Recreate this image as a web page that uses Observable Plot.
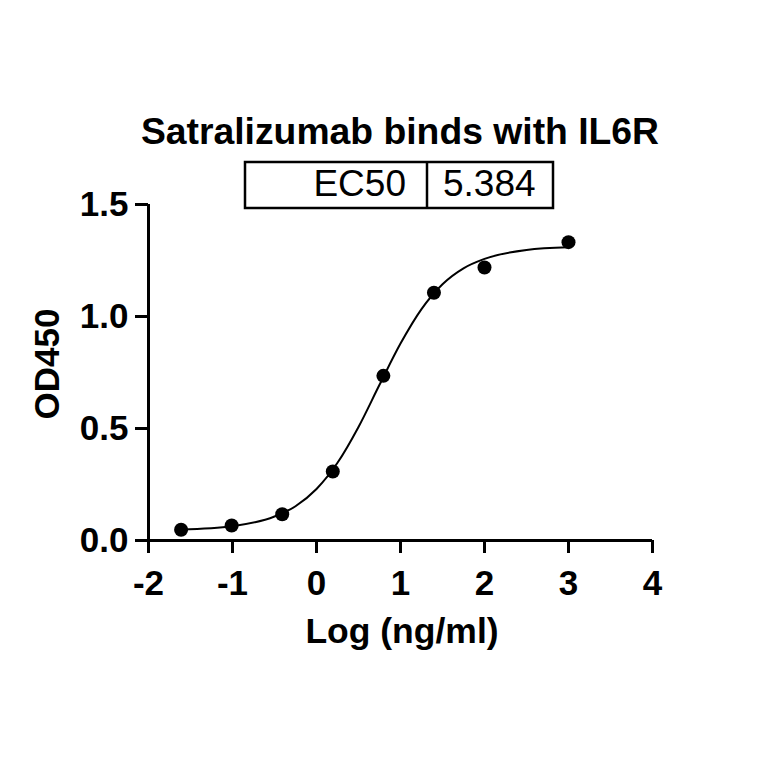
<!DOCTYPE html>
<html>
<head>
<meta charset="utf-8">
<script src="https://cdn.jsdelivr.net/npm/d3@7"></script>
<script src="https://cdn.jsdelivr.net/npm/@observablehq/plot@0.6"></script>
<style>
  html, body { margin: 0; padding: 0; background: #fff; }
  #chart svg { display: block; }
</style>
</head>
<body>
<div id="chart"></div>
<script>
// ---- data ----
const title = "Satralizumab binds with IL6R";
const ec50Label = "EC50";
const ec50Value = "5.384";
const xLabel = "Log (ng/ml)";
const yLabel = "OD450";

// measured points (log10 concentration, OD450)
const logConc = [-1.612, -1.010, -0.408, 0.194, 0.796, 1.398, 2.0, 3.0];
const od450   = [0.048, 0.067, 0.117, 0.308, 0.735, 1.106, 1.219, 1.332];

// fitted sigmoid curve
const curveX = [-1.612, -1.0, -0.5, -0.25, 0, 0.25, 0.5, 0.75, 1.0, 1.25, 1.5, 1.75, 2.0, 2.5, 3.0];
const curveY = [0.049, 0.064, 0.107, 0.153, 0.230, 0.347, 0.507, 0.695, 0.879, 1.033, 1.144, 1.215, 1.257, 1.297, 1.309];

// axis ticks
const xTicks = [-2, -1, 0, 1, 2, 3, 4];
const xTickLabels = ["-2", "-1", "0", "1", "2", "3", "4"];
const yTicks = [0, 0.5, 1.0, 1.5];
const yTickLabels = ["0.0", "0.5", "1.0", "1.5"];

// ---- build tables ----
const points = logConc.map((x, i) => ({x, y: od450[i]}));
const curve = curveX.map((x, i) => ({x, y: curveY[i]}));

const font = "'Liberation Sans', Arial, Helvetica, sans-serif";
const W = 764, H = 764;

const chart = Plot.plot({
  width: W,
  height: H,
  marginLeft: 148,
  marginRight: 112,
  marginTop: 204,
  marginBottom: 224,
  style: {fontFamily: font, background: "#fff", color: "#000", overflow: "visible"},
  x: {domain: [-2, 4]},
  y: {domain: [0, 1.5]},
  marks: [
    Plot.axisX({
      ticks: xTicks, tickFormat: (d) => xTickLabels[xTicks.indexOf(d)],
      tickSize: 13, tickPadding: 17, strokeWidth: 3,
      fontSize: 35, fontWeight: "bold", label: null, stroke: "#000", fill: "#000"
    }),
    Plot.axisY({
      ticks: yTicks, tickFormat: (d) => yTickLabels[yTicks.indexOf(d)],
      tickSize: 13, tickPadding: 7, strokeWidth: 3,
      fontSize: 35, fontWeight: "bold", label: null, stroke: "#000", fill: "#000"
    }),
    Plot.ruleY([0], {stroke: "#000", strokeWidth: 3}),
    Plot.ruleX([-2], {stroke: "#000", strokeWidth: 3}),
    Plot.line(curve, {x: "x", y: "y", curve: "monotone-x", stroke: "#000", strokeWidth: 2}),
    Plot.dot(points, {x: "x", y: "y", r: 7, fill: "#000", stroke: "none"})
  ]
});

const svg = d3.select(chart);

// title
svg.append("text")
  .attr("x", 400).attr("y", 144)
  .attr("text-anchor", "middle")
  .attr("font-family", font).attr("font-weight", "bold").attr("font-size", 37.3)
  .attr("fill", "#000")
  .text(title);

// EC50 table box
const box = svg.append("g").attr("fill", "none").attr("stroke", "#000").attr("stroke-width", 2.5);
box.append("rect").attr("x", 245).attr("y", 162).attr("width", 308).attr("height", 46);
box.append("line").attr("x1", 427).attr("x2", 427).attr("y1", 162).attr("y2", 208);

svg.append("text")
  .attr("x", 406).attr("y", 196)
  .attr("text-anchor", "end")
  .attr("font-family", font).attr("font-size", 37).attr("fill", "#000")
  .text(ec50Label);
svg.append("text")
  .attr("x", 443).attr("y", 196)
  .attr("text-anchor", "start")
  .attr("font-family", font).attr("font-size", 37).attr("fill", "#000")
  .text(ec50Value);

// axis titles
svg.append("text")
  .attr("x", 402).attr("y", 643)
  .attr("text-anchor", "middle")
  .attr("font-family", font).attr("font-weight", "bold").attr("font-size", 35.5)
  .attr("fill", "#000")
  .text(xLabel);

svg.append("text")
  .attr("transform", "translate(46,364) rotate(-90)")
  .attr("dy", "0.36em")
  .attr("text-anchor", "middle")
  .attr("font-family", font).attr("font-weight", "bold").attr("font-size", 35)
  .attr("fill", "#000")
  .text(yLabel);

document.getElementById("chart").appendChild(chart);
</script>
</body>
</html>
